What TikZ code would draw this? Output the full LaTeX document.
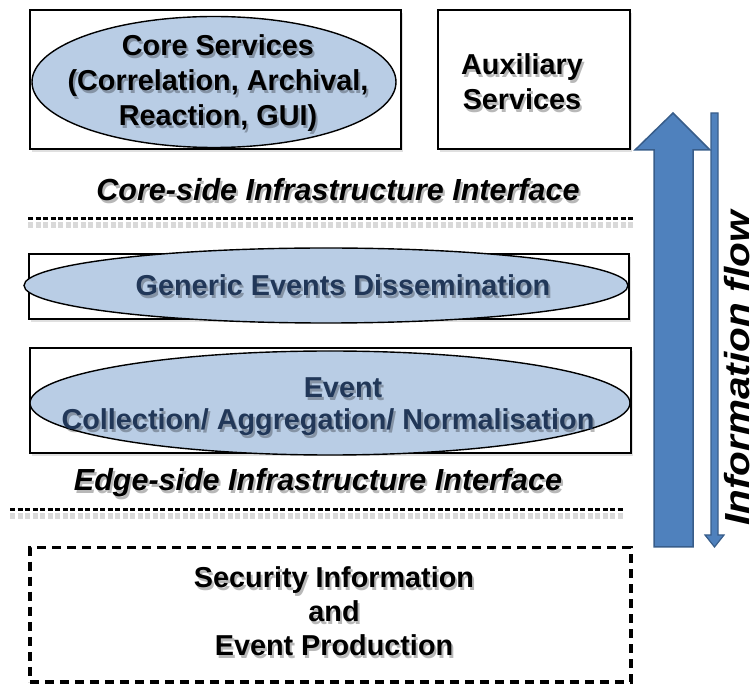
\documentclass[tikz,border=0pt]{standalone}
\usepackage{fontspec}
\setmainfont{Liberation Sans}
\usetikzlibrary{shapes.geometric}

\definecolor{ellfill}{RGB}{185,205,229}
\definecolor{arrowfill}{RGB}{79,129,189}
\definecolor{arrowline}{RGB}{56,93,138}
\definecolor{navytext}{RGB}{33,55,88}

\tikzset{
  layerbox/.style={draw=black, line width=1.6pt, fill=white, inner sep=0pt, anchor=north west},
  boxshadow/.style={fill=black, opacity=0.12, draw=none, inner sep=0pt, anchor=north west},
  layerell/.style={ellipse, draw=black, line width=1.4pt, fill=ellfill, inner sep=0pt},
  lbl/.style={align=center, inner sep=0pt, font=\bfseries\fontsize{28.8}{35}\selectfont},
  ifacelbl/.style={align=center, inner sep=0pt, font=\bfseries\itshape\fontsize{30.5}{36}\selectfont},
  txtshadow/.style={text=black, opacity=0.28},
  ifaceline/.style={draw=black, line width=3pt, dash pattern=on 5pt off 2.5pt},
  ifaceshadow/.style={draw=black, opacity=0.15, line width=6pt, dash pattern=on 5pt off 2.5pt},
  prodbox/.style={draw=black, line width=3.5pt, dash pattern=on 9pt off 6pt, fill=white, inner sep=0pt, anchor=north west},
  flowarrow/.style={fill=arrowfill, draw=arrowline, line width=1.5pt, line join=miter},
}

\begin{document}
\begin{tikzpicture}[x=1pt, y=-1pt]
\useasboundingbox (0,0) rectangle (753,684);

% --- soft shadows under the boxes
\node[boxshadow, minimum width=371pt, minimum height=139pt] (coresh) at (32,13) {};
\node[boxshadow, minimum width=192pt, minimum height=139pt] (auxsh) at (440,13) {};
\node[boxshadow, minimum width=600pt, minimum height=65pt] (gensh) at (31,257) {};
\node[boxshadow, minimum width=601pt, minimum height=105pt] (evsh) at (32,351) {};

% --- core-side layer
\node[layerbox, minimum width=371pt, minimum height=139pt] (core) at (29,9) {};
\node[layerbox, minimum width=192pt, minimum height=139pt] (aux) at (437,9) {};
\node[layerell, minimum width=364pt, minimum height=131pt] (coreell) at (214,82) {};

\node[lbl, txtshadow] (coretxtsh) at (220,86) {Core Services\\(Correlation, Archival,\\Reaction, GUI)};
\node[lbl] (coretxt) at (218,83) {Core Services\\(Correlation, Archival,\\Reaction, GUI)};
\node[lbl, txtshadow] (auxtxtsh) at (524,85) {Auxiliary\\Services};
\node[lbl] (auxtxt) at (522,82) {Auxiliary\\Services};

% --- core-side interface
\node[ifacelbl, txtshadow] (coreifsh) at (340,193) {Core-side Infrastructure Interface};
\node[ifacelbl] (coreif) at (338,190) {Core-side Infrastructure Interface};
\coordinate (cl1) at (28,219);
\coordinate (cl2) at (634,219);
\draw[ifaceshadow] ([yshift=-6pt]cl1) -- ([yshift=-6pt]cl2);
\draw[ifaceline] (cl1) -- (cl2);

% --- dissemination layer
\node[layerbox, minimum width=600pt, minimum height=65pt] (gen) at (28,253) {};
\node[layerell, minimum width=604pt, minimum height=75pt] (genell) at (326,285.5) {};
\node[lbl, txtshadow] (gentxtsh) at (345,288) {Generic Events Dissemination};
\node[lbl, text=navytext] (gentxt) at (343,285) {Generic Events Dissemination};

% --- collection layer
\node[layerbox, minimum width=601pt, minimum height=105pt] (ev) at (29,347) {};
\node[layerell, minimum width=600pt, minimum height=104pt] (evell) at (330,403) {};
\node[lbl, txtshadow] (evtxtsh1) at (345,391) {Event};
\node[lbl, text=navytext] (evtxt1) at (343,388) {Event};
\node[lbl, txtshadow] (evtxtsh2) at (330,425) {Collection/ Aggregation/ Normalisation};
\node[lbl, text=navytext] (evtxt2) at (328,422) {Collection/ Aggregation/ Normalisation};

% --- edge-side interface
\node[ifacelbl, txtshadow] (edgeifsh) at (320,486) {Edge-side Infrastructure Interface};
\node[ifacelbl] (edgeif) at (318,483) {Edge-side Infrastructure Interface};
\coordinate (el1) at (10,510);
\coordinate (el2) at (624,510);
\draw[ifaceshadow] ([yshift=-6pt]el1) -- ([yshift=-6pt]el2);
\draw[ifaceline] (el1) -- (el2);

% --- production layer
\node[prodbox, minimum width=601pt, minimum height=134pt] (prod) at (28,546) {};
\node[lbl, txtshadow, font=\bfseries\fontsize{28.8}{34}\selectfont] (prodtxtsh) at (336,614) {Security Information\\and\\Event Production};
\node[lbl, font=\bfseries\fontsize{28.8}{34}\selectfont] (prodtxt) at (334,611) {Security Information\\and\\Event Production};

% --- information flow arrows
\path[flowarrow] (654,547) -- (654,150) -- (635,150) -- (673,113) -- (710,150) -- (693,150) -- (693,547) -- cycle;
\path[flowarrow, line width=1.2pt] (711,113) -- (718,113) -- (718,535) -- (724,535) -- (714.5,547) -- (705,535) -- (711,535) -- cycle;

\node[inner sep=0pt, rotate=90, anchor=base, font=\bfseries\itshape\fontsize{40.5}{44}\selectfont] (flow) at (749.5,368.5) {\scalebox{1}[0.86]{Information flow}};
\end{tikzpicture}
\end{document}
